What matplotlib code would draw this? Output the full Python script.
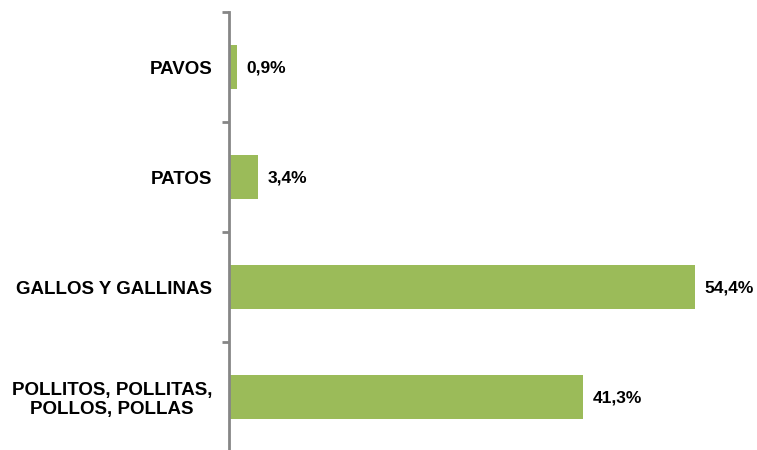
import matplotlib.pyplot as plt

# datos (de arriba hacia abajo en el grafico)
categorias = ['PAVOS', 'PATOS', 'GALLOS Y GALLINAS', 'POLLITOS, POLLITAS,\nPOLLOS, POLLAS']
valores = [0.9, 3.4, 54.4, 41.3]
etiquetas = ['0,9%', '3,4%', '54,4%', '41,3%']

plt.rcParams['font.family'] = ['Liberation Sans', 'DejaVu Sans']

fig = plt.figure(figsize=(7.57, 4.50), dpi=100)
ax = fig.add_axes([229 / 757, -2 / 450, 514 / 757, 440 / 450])

pos = list(range(len(categorias)))
ax.barh(pos, valores, height=0.4, color='#9BBB59')
ax.set_ylim(len(categorias) - 0.5, -0.5)
ax.set_xlim(0, 60)

for p, v, t in zip(pos, valores, etiquetas):
    ax.annotate(t, (v, p), xytext=(7, -1), textcoords='offset points',
                va='center', ha='left', fontsize=12.5, fontweight='bold')

# ticks en los limites de categoria
ax.set_yticks([p - 0.5 for p in pos] + [len(pos) - 0.5])
ax.set_yticklabels([])
ax.set_yticks(pos, minor=True)
ax.set_yticklabels(categorias, minor=True, fontsize=13.5, fontweight='bold')
for lab in ax.get_yticklabels(minor=True):
    lab.set_multialignment('center')
    lab.set_linespacing(1.15)
ax.tick_params(axis='y', which='major', length=5, width=2, color='#868686', direction='out')
ax.tick_params(axis='y', which='minor', length=0, pad=12)

ax.set_xticks([])
for s in ['top', 'right', 'bottom']:
    ax.spines[s].set_visible(False)
ax.spines['left'].set_color('#868686')
ax.spines['left'].set_linewidth(2)

fig.savefig('out.png', dpi=100)
